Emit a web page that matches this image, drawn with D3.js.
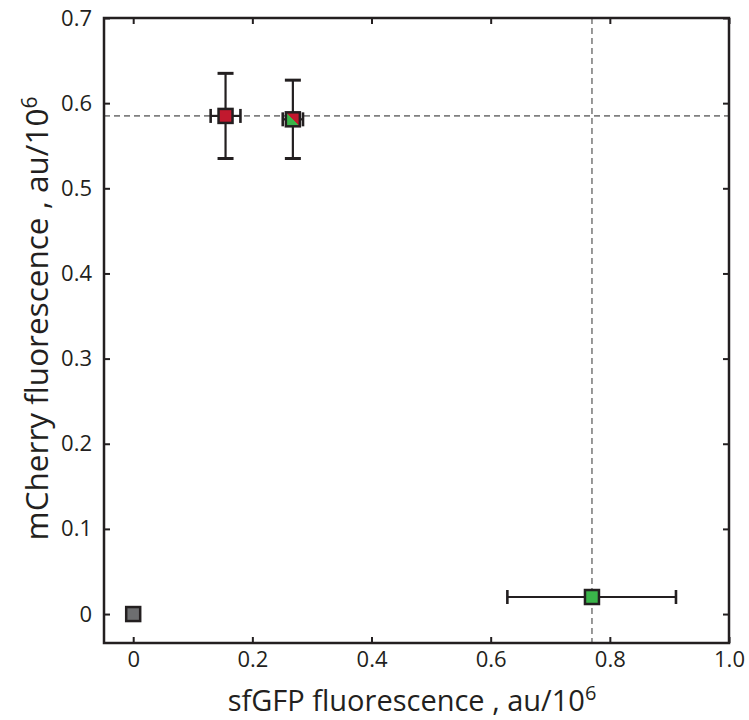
<!DOCTYPE html>
<html>
<head>
<meta charset="utf-8">
<script src="https://cdn.jsdelivr.net/npm/d3@7"></script>
<style>
body { margin: 0; background: #fff; }
text { font-family: "Open Sans", "Noto Sans", sans-serif; fill: #231f20; }
</style>
</head>
<body>
<svg id="mySVG" width="749" height="720"></svg>
<script>
// ---data---
var names = ["control", "mCherry", "both", "sfGFP"]
var xVals = [0, 0.155, 0.268, 0.77]
var yVals = [0, 0.585, 0.581, 0.02]
var xLo = [null, 0.13, 0.251, 0.628]
var xHi = [null, 0.18, 0.285, 0.911]
var yLo = [null, 0.535, 0.535, null]
var yHi = [null, 0.635, 0.627, null]
var fills = ["#6d6e70", "#c1192e", "split", "#3ab54a"]
var xTicks = [0, 0.2, 0.4, 0.6, 0.8, 1.0]
var yTicks = [0, 0.1, 0.2, 0.3, 0.4, 0.5, 0.6, 0.7]
var refX = 0.77
var refY = 0.585

var INK = "#231f20"
var L = 104, R = 729, T = 18, B = 643

var MySVG = d3.select("#mySVG")
var x = d3.scaleLinear().domain([-0.049, 1.0]).range([L, R])
var y = d3.scaleLinear().domain([-0.034, 0.7]).range([B, T])

var defs = MySVG.append("defs")
var grad = defs.append("linearGradient")
    .attr("id", "splitFill")
    .attr("x1", "0").attr("y1", "1").attr("x2", "1").attr("y2", "0")
grad.append("stop").attr("offset", "50%").attr("stop-color", "#3ab54a")
grad.append("stop").attr("offset", "50%").attr("stop-color", "#c1192e")

// ---dashed reference lines---
var refG = MySVG.append("g")
    .attr("stroke", "#808080")
    .attr("stroke-width", 1.6)
    .attr("stroke-dasharray", "6,4")
refG.append("line")
    .attr("x1", L).attr("x2", R)
    .attr("y1", y(refY)).attr("y2", y(refY))
refG.append("line")
    .attr("x1", x(refX)).attr("x2", x(refX))
    .attr("y1", T).attr("y2", B)

// ---axes, ticks inside on all four sides---
function tickStyle(g) {
    g.select(".domain").remove()
    g.selectAll(".tick line").attr("stroke", INK).attr("stroke-width", 2)
    g.selectAll(".tick text").attr("font-size", 22).attr("fill", INK)
        .attr("font-family", "'Open Sans', 'Noto Sans', sans-serif")
}
MySVG.append("g")
    .attr("transform", "translate(0," + B + ")")
    .call(d3.axisBottom(x).tickValues(xTicks).tickSize(-6).tickPadding(8)
        .tickFormat(function (d) { return d === 0 ? "0" : d === 1 ? "1.0" : d3.format(".1f")(d) }))
    .call(tickStyle)
MySVG.append("g")
    .attr("transform", "translate(" + L + ",0)")
    .call(d3.axisLeft(y).tickValues(yTicks).tickSize(-6).tickPadding(12)
        .tickFormat(function (d) { return d === 0 ? "0" : d3.format(".1f")(d) }))
    .call(tickStyle)
MySVG.append("g")
    .attr("transform", "translate(0," + T + ")")
    .call(d3.axisTop(x).tickValues(xTicks).tickSize(-6).tickFormat(""))
    .call(tickStyle)
MySVG.append("g")
    .attr("transform", "translate(" + R + ",0)")
    .call(d3.axisRight(y).tickValues(yTicks).tickSize(-6).tickFormat(""))
    .call(tickStyle)

MySVG.append("rect")
    .attr("x", L).attr("y", T)
    .attr("width", R - L).attr("height", B - T)
    .attr("fill", "none")
    .attr("stroke", INK)
    .attr("stroke-width", 2.5)

// ---error bars---
var errG = MySVG.append("g")
    .attr("stroke", INK)
    .attr("stroke-width", 2.2)
names.forEach(function (n, i) {
    if (yLo[i] !== null) {
        errG.append("line")
            .attr("x1", x(xVals[i])).attr("x2", x(xVals[i]))
            .attr("y1", y(yLo[i])).attr("y2", y(yHi[i]))
        ;[yLo[i], yHi[i]].forEach(function (v) {
            errG.append("line")
                .attr("x1", x(xVals[i]) - 8).attr("x2", x(xVals[i]) + 8)
                .attr("y1", y(v)).attr("y2", y(v))
                .attr("stroke-width", 3)
        })
    }
    if (xLo[i] !== null) {
        errG.append("line")
            .attr("x1", x(xLo[i])).attr("x2", x(xHi[i]))
            .attr("y1", y(yVals[i])).attr("y2", y(yVals[i]))
        ;[xLo[i], xHi[i]].forEach(function (v) {
            errG.append("line")
                .attr("x1", x(v)).attr("x2", x(v))
                .attr("y1", y(yVals[i]) - 7).attr("y2", y(yVals[i]) + 7)
                .attr("stroke-width", 2.6)
        })
    }
})

// ---square markers---
var S = 14
MySVG.append("g").selectAll("rect")
    .data(names)
    .join("rect")
    .attr("x", function (d, i) { return x(xVals[i]) - S / 2 })
    .attr("y", function (d, i) { return y(yVals[i]) - S / 2 })
    .attr("width", S).attr("height", S)
    .attr("fill", function (d, i) { return fills[i] === "split" ? "url(#splitFill)" : fills[i] })
    .attr("stroke", INK)
    .attr("stroke-width", 2.5)

// ---axis titles---
var xt = MySVG.append("text")
    .attr("x", 412).attr("y", 711)
    .attr("text-anchor", "middle")
    .attr("font-size", 29)
xt.append("tspan").text("sfGFP fluorescence , au/10")
xt.append("tspan").attr("dy", -11).attr("font-size", 20).text("6")

var yt = MySVG.append("text")
    .attr("transform", "translate(48," + ((T + B) / 2 - 12) + ") rotate(-90)")
    .attr("text-anchor", "middle")
    .attr("font-size", 31.5)
yt.append("tspan").text("mCherry fluorescence , au/10")
yt.append("tspan").attr("dy", -11).attr("font-size", 21).text("6")
</script>
</body>
</html>
